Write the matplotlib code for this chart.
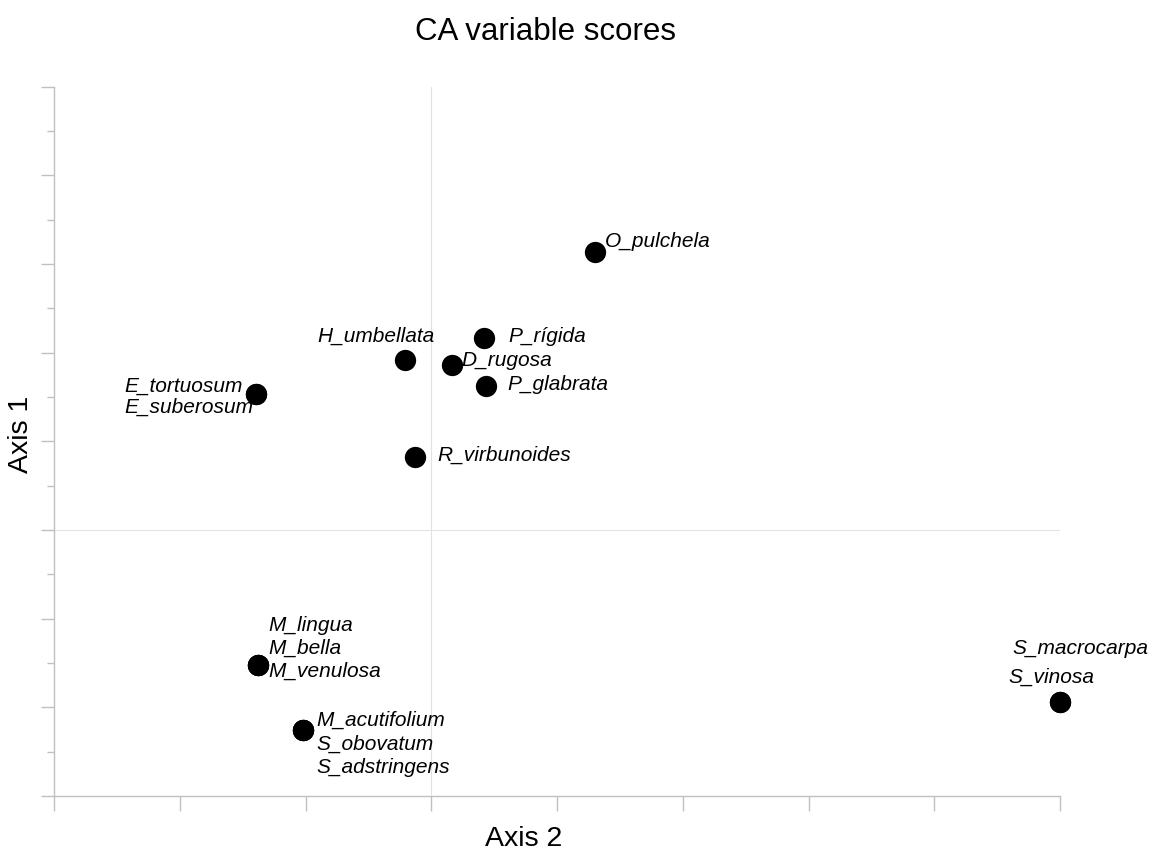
import matplotlib

matplotlib.use("Agg")
import matplotlib.pyplot as plt
import numpy as np

plt.rcParams["font.family"] = ["Liberation Sans", "DejaVu Sans"]

# CA species scores
species = [
    "O_pulchela", "P_rígida", "H_umbellata", "D_rugosa", "P_glabrata",
    "E_tortuosum", "E_suberosum", "R_virbunoides",
    "M_lingua", "M_bella", "M_venulosa",
    "M_acutifolium", "S_obovatum", "S_adstringens",
    "S_macrocarpa", "S_vinosa",
]
axis2 = [0.652, 0.211, -0.105, 0.083, 0.217,
         -0.697, -0.697, -0.064,
         -0.688, -0.688, -0.688,
         -0.509, -0.509, -0.509,
         2.500, 2.500]
axis1 = [1.569, 1.084, 0.959, 0.931, 0.814,
         0.766, 0.766, 0.414,
         -0.762, -0.762, -0.762,
         -1.125, -1.125, -1.125,
         -0.971, -0.971]

# label placement: offset in pixels from the point, horizontal alignment
label_pos = {
    "O_pulchela": (10, 5, "left"),
    "P_rígida": (24, -4, "left"),
    "H_umbellata": (-29, 18, "center"),
    "D_rugosa": (9, -1, "left"),
    "P_glabrata": (22, -4, "left"),
    "E_tortuosum": (-132, 2, "left"),
    "E_suberosum": (-132, -19, "left"),
    "R_virbunoides": (22, -4, "left"),
    "M_lingua": (10, 34, "left"),
    "M_bella": (10, 11, "left"),
    "M_venulosa": (10, -12, "left"),
    "M_acutifolium": (13, 4, "left"),
    "S_obovatum": (13, -20, "left"),
    "S_adstringens": (13, -43, "left"),
    "S_macrocarpa": (-48, 48, "left"),
    "S_vinosa": (-52, 19, "left"),
}

W, H = 1155, 852
fig = plt.figure(figsize=(W / 100, H / 100), dpi=100)
ax = fig.add_axes([54 / W, 1 - 796 / H, (1060 - 54) / W, (796 - 86.7) / H])

ax.set_xlim(-1.5, 2.5)
ax.set_ylim(-1.5, 2.5)
ax.axvline(0, color="#e2e2e2", lw=0.8, zorder=0)
ax.axhline(0, color="#e2e2e2", lw=0.8, zorder=0)

ax.scatter(axis2, axis1, s=235, color="black", zorder=3, clip_on=False, linewidths=0)

for name, x, y in zip(species, axis2, axis1):
    dx, dy, ha = label_pos[name]
    ax.annotate(name, (x, y), xytext=(dx, dy), textcoords="offset pixels",
                ha=ha, va="baseline", fontsize=15, style="italic",
                annotation_clip=False)

for s in ["top", "right"]:
    ax.spines[s].set_visible(False)
for s in ["left", "bottom"]:
    ax.spines[s].set_color("#c0c0c0")
    ax.spines[s].set_linewidth(1.0)

ax.set_xticks(np.arange(-1.5, 2.51, 0.5))
ax.set_yticks(np.arange(-1.5, 2.51, 0.5))
ax.set_yticks(np.arange(-1.25, 2.5, 0.5), minor=True)
ax.tick_params(axis="x", length=10.8, width=1.0, color="#c0c0c0", labelbottom=False)
ax.tick_params(axis="y", which="major", length=9.4, width=1.0, color="#c0c0c0", labelleft=False)
ax.tick_params(axis="y", which="minor", length=5, width=1.0, color="#c0c0c0")

fig.text(545.5 / W, 1 - 40 / H, "CA variable scores", ha="center", va="baseline", fontsize=22.5)
fig.text(524 / W, 6 / H, "Axis 2", ha="center", va="baseline", fontsize=20.5)
fig.text(21.5 / W, 1 - 434 / H, "Axis 1", ha="center", va="center", rotation=90, fontsize=20.5)

fig.savefig("out.png", dpi=100)
